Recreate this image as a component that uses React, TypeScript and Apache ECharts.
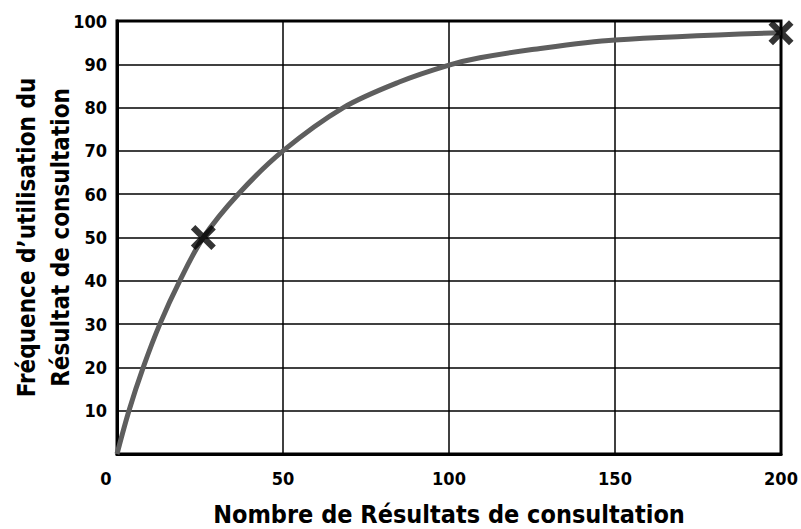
import React, { useEffect, useRef } from "react";
import * as echarts from "echarts";

const curveX = [0, 3.6, 7.9, 12.9, 18.9, 26, 36.5, 50, 68.2, 85, 100, 109.3, 125, 150, 200];
const curveY = [0, 10, 20, 30, 40, 50, 60, 70, 80, 85.9, 89.8, 91.5, 93.4, 95.6, 97.3];
const markX = [26, 200];
const markY = [50, 97.3];
const xTicks = [0, 50, 100, 150, 200];
const yTicks = [0, 10, 20, 30, 40, 50, 60, 70, 80, 90, 100];
const xTitle = "Nombre de Résultats de consultation";
const yTitle = "Fréquence d\u2019utilisation du\nRésultat de consultation";

const FONT = "'DejaVu Sans Condensed', 'DejaVu Sans', sans-serif";
const CROSS =
  "path://M0,1.8 L1.8,0 L5,3.2 L8.2,0 L10,1.8 L6.8,5 L10,8.2 L8.2,10 L5,6.8 L1.8,10 L0,8.2 L3.2,5 Z";

export default function App() {
  const ref = useRef<HTMLDivElement>(null);
  useEffect(() => {
    document.body.style.margin = "0";
    const chart = echarts.init(ref.current!, null, { renderer: "svg" });
    chart.setOption({
      animation: false,
      backgroundColor: "#fff",
      grid: {
        left: 117,
        right: 20,
        top: 21,
        bottom: 75,
        show: true,
        borderColor: "#000",
        borderWidth: 3,
        containLabel: false,
        outerBoundsMode: "none",
      },
      xAxis: {
        type: "value",
        min: xTicks[0],
        max: xTicks[xTicks.length - 1],
        interval: 50,
        name: xTitle,
        nameLocation: "middle",
        nameGap: 47,
        nameMoveOverlap: false,
        nameTextStyle: {
          fontFamily: FONT,
          fontWeight: "bold",
          fontSize: 25,
          lineHeight: 26,
          color: "#000",
        },
        axisLine: { show: true, lineStyle: { color: "#000", width: 3 } },
        axisTick: { show: false },
        splitLine: { show: true, lineStyle: { color: "#000", width: 1.5 } },
        axisLabel: {
          margin: 15,
          fontFamily: FONT,
          fontWeight: "bold",
          fontSize: 18,
          color: "#000",
          formatter: (v: number) => (v === 0 ? "{z|0}" : String(v)),
          rich: {
            z: {
              fontFamily: FONT,
              fontWeight: "bold",
              fontSize: 18,
              color: "#000",
              padding: [0, 22, 0, 0],
            },
          },
        },
      },
      yAxis: {
        type: "value",
        min: yTicks[0],
        max: yTicks[yTicks.length - 1],
        interval: 10,
        name: yTitle,
        nameLocation: "middle",
        nameGap: 39,
        nameRotate: 90,
        nameMoveOverlap: false,
        nameTextStyle: {
          fontFamily: FONT,
          fontWeight: "bold",
          fontSize: 24,
          color: "#000",
          lineHeight: 34,
        },
        axisLine: { show: true, lineStyle: { color: "#000", width: 3 } },
        axisTick: { show: false },
        splitLine: { show: true, lineStyle: { color: "#000", width: 1.5 } },
        axisLabel: {
          margin: 10,
          fontFamily: FONT,
          fontWeight: "bold",
          fontSize: 18,
          color: "#000",
          formatter: (v: number) => (v === 0 ? "" : String(v)),
        },
      },
      series: [
        {
          type: "line",
          data: curveX.map((x, i) => [x, curveY[i]]),
          smooth: 0.33,
          showSymbol: false,
          lineStyle: { color: "#5e5e5e", width: 5 },
          z: 3,
        },
        {
          type: "scatter",
          data: markX.map((x, i) => [x, markY[i]]),
          symbol: CROSS,
          symbolSize: 25,
          itemStyle: { color: "#000" },
          z: 4,
        },
      ],
    });
    return () => chart.dispose();
  }, []);
  return (
    <div
      ref={ref}
      style={{ position: "absolute", left: 0, top: 0, width: 801, height: 529 }}
    />
  );
}
